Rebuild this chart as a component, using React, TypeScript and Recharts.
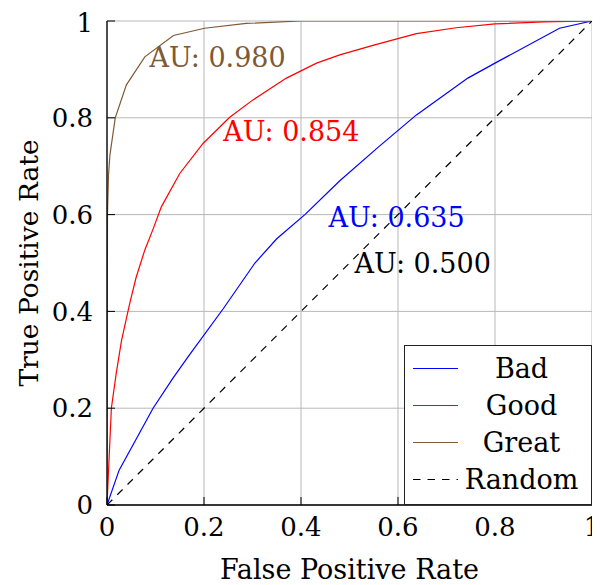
import React from 'react';
import { LineChart, Line, XAxis, YAxis, CartesianGrid, ReferenceDot, Legend } from 'recharts';

const FONT = 'DejaVu Serif';

const axisTicks = [0, 0.2, 0.4, 0.6, 0.8, 1];
const tickLabels = ['0', '0.2', '0.4', '0.6', '0.8', '1'];

const badFpr = [0, 0.025, 0.095, 0.136, 0.17, 0.24, 0.305, 0.35, 0.408, 0.48, 0.56, 0.638, 0.744, 0.8, 0.933, 1];
const badTpr = [0, 0.072, 0.2, 0.262, 0.31, 0.406, 0.5, 0.55, 0.6, 0.67, 0.74, 0.806, 0.882, 0.913, 0.985, 1];

const goodFpr = [0, 0.002, 0.009, 0.019, 0.03, 0.047, 0.06, 0.078, 0.095, 0.112, 0.15, 0.198, 0.253, 0.301, 0.37, 0.432, 0.48, 0.55, 0.638, 0.72, 0.8, 0.9, 1];
const goodTpr = [0, 0.045, 0.2, 0.272, 0.34, 0.417, 0.47, 0.527, 0.57, 0.616, 0.685, 0.747, 0.801, 0.837, 0.882, 0.913, 0.93, 0.95, 0.974, 0.986, 0.994, 0.998, 1];

const greatFpr = [0, 0.001, 0.003, 0.006, 0.017, 0.04, 0.078, 0.137, 0.201, 0.287, 0.4, 1];
const greatTpr = [0, 0.6, 0.68, 0.723, 0.8, 0.868, 0.926, 0.97, 0.985, 0.995, 1, 1];

const randomFpr = [0, 1];
const randomTpr = [0, 1];

const seriesNames = ['Bad', 'Good', 'Great', 'Random'];
const seriesColors = ['#0000ff', '#ff0000', '#7d5a35', '#000000'];

const aucLabels = ['AU: 0.635', 'AU: 0.854', 'AU: 0.980', 'AU: 0.500'];
const aucX = [0.597, 0.38, 0.228, 0.651];
const aucY = [0.593, 0.771, 0.925, 0.498];

const toPoints = (xs: number[], ys: number[]) => xs.map((x, i) => ({ x, y: ys[i] }));

const seriesData = [
  toPoints(badFpr, badTpr),
  toPoints(goodFpr, goodTpr),
  toPoints(greatFpr, greatTpr),
  toPoints(randomFpr, randomTpr),
];

const DASH = '7.5 7';

const renderLegend = () => (
  <div
    style={{
      width: 188,
      height: 160,
      boxSizing: 'border-box',
      border: '1.3px solid #222',
      background: '#fff',
      paddingTop: 4,
      fontFamily: FONT,
    }}
  >
    {seriesNames.map((name, i) => (
      <div key={name} style={{ height: 37, position: 'relative' }}>
        <svg width={60} height={37} style={{ position: 'absolute', left: 0, top: 0 }}>
          <line
            x1={8}
            x2={53}
            y1={18.5}
            y2={18.5}
            stroke={seriesColors[i]}
            strokeWidth={1.2}
            strokeDasharray={name === 'Random' ? DASH : undefined}
          />
        </svg>
        <span
          style={{
            position: 'absolute',
            left: 55,
            right: 8,
            top: 0,
            textAlign: 'center',
            fontSize: 27,
            lineHeight: '37px',
            color: '#000',
            fontFamily: FONT,
          }}
        >
          {name}
        </span>
      </div>
    ))}
  </div>
);

const tickStyle = { fontSize: 26, fill: '#000', fontFamily: FONT };
const fmt = (v: number) => tickLabels[axisTicks.indexOf(v)] ?? String(v);

export default function App() {
  return (
    <div style={{ width: 592, height: 577, fontFamily: FONT }}>
      <LineChart
        width={592}
        height={577}
        margin={{ top: 13, right: 8, left: 39, bottom: 40 }}
        style={{ overflow: 'visible', fontFamily: FONT }}
      >
        <CartesianGrid stroke="#b8b8b8" strokeWidth={1} />
        <XAxis
          type="number"
          dataKey="x"
          domain={[0, 1]}
          ticks={axisTicks}
          tickFormatter={fmt}
          height={40}
          axisLine={{ stroke: '#000', strokeWidth: 1.3 }}
          tickLine={{ stroke: '#000', strokeWidth: 1 }}
          tickSize={-8}
          tickMargin={21}
          tick={tickStyle}
          allowDataOverflow
          label={{
            content: (props: any) => {
              const vb = props.viewBox || {};
              return (
                <text x={vb.x + vb.width / 2} y={vb.y + 74} textAnchor="middle" fontSize={27} fontFamily={FONT} fill="#000">
                  False Positive Rate
                </text>
              );
            },
          }}
        />
        <XAxis
          xAxisId="top"
          orientation="top"
          type="number"
          dataKey="x"
          domain={[0, 1]}
          ticks={axisTicks}
          height={0}
          axisLine={{ stroke: '#000', strokeWidth: 1.3 }}
          tickLine={{ stroke: '#000', strokeWidth: 1 }}
          tickSize={-8}
          tick={<g />}
        />
        <YAxis
          type="number"
          domain={[0, 1]}
          ticks={axisTicks}
          tickFormatter={fmt}
          width={60}
          axisLine={{ stroke: '#000', strokeWidth: 1.3 }}
          tickLine={{ stroke: '#000', strokeWidth: 1 }}
          tickSize={-8}
          tickMargin={22}
          tick={tickStyle}
          allowDataOverflow
          label={{
            content: (props: any) => {
              const vb = props.viewBox || {};
              const cx = vb.x - 19;
              const cy = vb.y + vb.height / 2;
              return (
                <text
                  x={cx}
                  y={cy}
                  transform={`rotate(-90, ${cx}, ${cy})`}
                  textAnchor="middle"
                  dominantBaseline="central"
                  fontSize={26.5}
                  fontFamily={FONT}
                  fill="#000"
                >
                  True Positive Rate
                </text>
              );
            },
          }}
        />
        <YAxis
          yAxisId="right"
          orientation="right"
          type="number"
          domain={[0, 1]}
          ticks={axisTicks}
          width={0}
          axisLine={{ stroke: '#000', strokeWidth: 1.3 }}
          tickLine={{ stroke: '#000', strokeWidth: 1 }}
          tickSize={-8}
          tick={<g />}
        />
        <Legend
          layout="vertical"
          align="center"
          verticalAlign="middle"
          content={renderLegend}
          wrapperStyle={{ position: 'absolute', left: 396, top: 337, width: 188, height: 160 }}
        />
        {seriesNames.map((name, i) => (
          <Line
            key={name}
            name={name}
            data={seriesData[i]}
            dataKey="y"
            type="linear"
            stroke={seriesColors[i]}
            strokeWidth={1.2}
            strokeDasharray={name === 'Random' ? DASH : undefined}
            dot={false}
            activeDot={false}
            isAnimationActive={false}
          />
        ))}
        {aucLabels.map((lab, i) => (
          <ReferenceDot
            key={lab}
            x={aucX[i]}
            y={aucY[i]}
            r={0}
            shape={(p: any) => (
              <text
                x={p.cx}
                y={p.cy}
                textAnchor="middle"
                dominantBaseline="central"
                fontSize={27}
                fontFamily={FONT}
                fill={seriesColors[i]}
              >
                {lab}
              </text>
            )}
          />
        ))}
      </LineChart>
    </div>
  );
}
